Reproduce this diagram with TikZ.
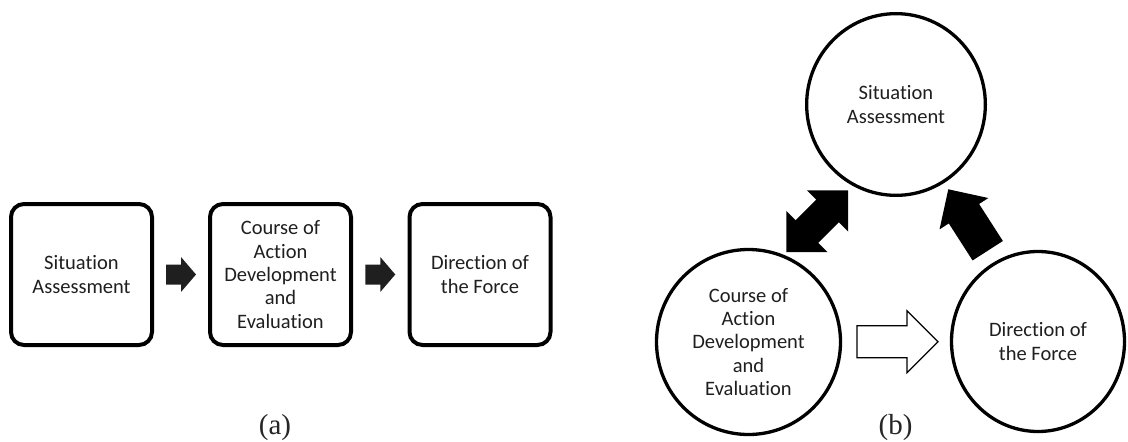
\documentclass[tikz,border=0pt]{standalone}
\usepackage{fontspec}
\setmainfont{Carlito}[Ligatures=NoCommon]
\newfontfamily\labelfont{Liberation Serif}
\usetikzlibrary{shapes.geometric,calc}
\tikzset{
  stagebox/.style={draw=black, line width=4pt, rounded corners=13pt,
    minimum width=141pt, minimum height=141pt, inner sep=0pt, align=center,
    font=\fontsize{20.5}{23.3}\selectfont, text=black!88},
  stagecirc/.style={draw=black, line width=3.3pt, ellipse, inner sep=0pt,
    align=center, font=\fontsize{20.5}{23.3}\selectfont, text=black!88},
  sublabel/.style={font=\labelfont\fontsize{29}{32}\selectfont, text=black!85, inner sep=0pt},
  pics/onearrow/.style n args={4}{code={
    \path[pic actions] ({-#1/2},{-#4}) -- ({#1/2-#2},{-#4}) -- ({#1/2-#2},{-#3})
      -- ({#1/2},0) -- ({#1/2-#2},{#3}) -- ({#1/2-#2},{#4}) -- ({-#1/2},{#4}) -- cycle;
  }},
  pics/twoarrow/.style n args={4}{code={
    \path[pic actions] ({-#1/2},0) -- ({-#1/2+#2},{-#3}) -- ({-#1/2+#2},{-#4})
      -- ({#1/2-#2},{-#4}) -- ({#1/2-#2},{-#3}) -- ({#1/2},0) -- ({#1/2-#2},{#3})
      -- ({#1/2-#2},{#4}) -- ({-#1/2+#2},{#4}) -- ({-#1/2+#2},{#3}) -- cycle;
  }},
}
\begin{document}
\begin{tikzpicture}[x=1pt,y=-1pt]
\useasboundingbox[fill=white] (0,0) rectangle (1128,442);
% panel (a)
\node[stagebox] (a1) at (81.5,274.5) {Situation\\Assessment};
\node[stagebox] (a2) at (280.5,274.5) {Course of\\Action\\Development\\and\\Evaluation};
\node[stagebox] (a3) at (480,274.5) {Direction of\\the Force};
\pic[fill=black!88] at ($(a1.east)!0.5!(a2.west)$) {onearrow={30}{15}{17.5}{10}};
\pic[fill=black!88] at ($(a2.east)!0.5!(a3.west)$) {onearrow={30}{15}{17.5}{10}};
\node[sublabel] (la) at (275,428) {(a)};
% panel (b)
\node[stagecirc, minimum width=178.7pt, minimum height=181.7pt] (c1) at (896,104.5) {Situation\\Assessment};
\node[stagecirc, minimum width=184pt, minimum height=185pt] (c2) at (748.5,342) {Course of\\Action\\Development\\and\\Evaluation};
\node[stagecirc, minimum width=173pt, minimum height=180pt] (c3) at (1038,341.5) {Direction of\\the Force};
\pic[fill=black, rotate=45] at ($(c2)!0.5!(c1)+(-5,-2)$) {twoarrow={87}{29}{29}{16}};
\pic[fill=black, rotate=122.7] at ($(c3)!0.5!(c1)+(1,-3)$) {onearrow={73}{29}{29}{18}};
\pic[draw=black, fill=white, line width=1.2pt] at ($(c2.east)!0.5!(c3.west)+(1.5,0)$) {onearrow={81}{31}{31}{16}};
\node[sublabel] (lb) at (895.5,428) {(b)};
\end{tikzpicture}
\end{document}
